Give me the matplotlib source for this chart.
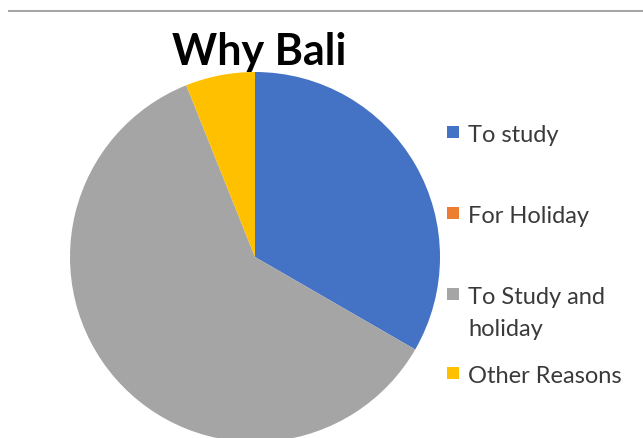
import matplotlib
matplotlib.use("Agg")
import matplotlib.pyplot as plt
from matplotlib.lines import Line2D
from matplotlib.patches import Rectangle

# data
labels = ["To study", "For Holiday", "To Study and\nholiday", "Other Reasons"]
values = [11, 0, 20, 2]
colors = ["#4472C4", "#ED7D31", "#A5A5A5", "#FFC000"]
title = "Why Bali"

W, H = 643, 439
fig = plt.figure(figsize=(W / 100, H / 100), dpi=100)

# pie axes, placed in pixel terms (center ~ (255, 258), radius ~185)
cx, cy, r = 255, 258, 185
ax = fig.add_axes([(cx - r) / W, (H - cy - r) / H, 2 * r / W, 2 * r / H])
ax.pie(values, colors=colors, startangle=90, counterclock=False,
       radius=1, wedgeprops=dict(linewidth=0))
ax.set_xlim(-1, 1)
ax.set_ylim(-1, 1)
ax.set_aspect("auto")
ax.axis("off")

# thin rule at the top
fig.add_artist(Line2D([9 / W, 1], [1 - 12 / H, 1 - 12 / H],
                      color="#a6a6a6", lw=1.5, transform=fig.transFigure))

fig.text(259 / W, 1 - 65 / H, title, ha="center", va="baseline",
         fontsize=31, fontweight="bold", family="Lato", color="black")

# legend drawn by hand to match the uneven spacing (baselines in px)
legend_base = [142, 223, 304, 383]
for lab, col, yb in zip(labels, colors, legend_base):
    fig.add_artist(Rectangle((447 / W, 1 - (yb - 3) / H), 12 / W, 12 / H,
                             facecolor=col, edgecolor="none",
                             transform=fig.transFigure))
    fig.text(468 / W, 1 - yb / H, lab.split("\n")[0], ha="left", va="baseline",
             fontsize=17, family="Lato", color="#3a3a3a")
    if "\n" in lab:
        fig.text(468 / W, 1 - (yb + 32) / H, lab.split("\n")[1], ha="left",
                 va="baseline", fontsize=17, family="Lato", color="#3a3a3a")

fig.savefig("out.png", dpi=100)
